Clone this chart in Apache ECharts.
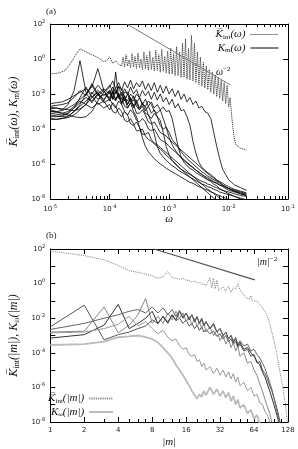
<!DOCTYPE html>
<html><head><meta charset="utf-8">
<script src="https://cdn.jsdelivr.net/npm/echarts@6/dist/echarts.min.js"></script>
<style>html,body{margin:0;padding:0;background:#fff}#c{width:298px;height:449px}</style>
</head><body><div id="c"></div>
<script>
// ===== Panel (a): values are decimal exponents (log10) =====
const logOmega = [-5.0,-4.9,-4.8,-4.7,-4.6,-4.5,-4.4,-4.3,-4.2,-4.1,
 -4.0,-3.95,-3.9,-3.85,-3.8,-3.75,-3.7,-3.65,-3.6,-3.55,-3.5,-3.45,-3.4,-3.35,-3.3,-3.25,-3.2,-3.15,-3.1,-3.05,
 -3.0,-2.95,-2.9,-2.85,-2.8,-2.75,-2.7,-2.65,-2.6,-2.55,-2.5,-2.45,-2.4,-2.35,-2.3,-2.25,-2.2,-2.15,-2.1,-2.05,-2.0,
 -1.9,-1.8,-1.7];
const kmA = [-2.55,-2.5,-2.45,-2.3,-2.1,-1.9,-1.7,-2.0,-1.5,-1.9,
 -1.6,-1.25,-1.7,-1.35,-1.8,-1.3,-1.65,-1.2,-1.7,-1.35,-1.6,-1.25,-1.75,-1.4,-1.8,-1.35,-1.9,-1.5,-1.95,-1.55,
 -2.0,-1.7,-2.15,-1.8,-2.3,-2.0,-2.45,-2.2,-2.6,-2.4,-2.8,-2.7,-3.0,-3.1,-3.4,-4.2,-5.0,-5.7,-6.3,-6.6,-6.9,
 -7.2,-7.35,-7.5];
const kmB = [-2.7,-2.65,-2.6,-2.5,-2.2,-1.8,-2.1,-1.4,-2.0,-1.7,
 -2.0,-1.6,-1.95,-1.55,-2.1,-1.7,-2.05,-1.6,-2.0,-1.75,-2.2,-1.8,-2.1,-1.85,-2.3,-1.9,-2.35,-2.0,-2.45,-2.2,
 -2.6,-2.3,-2.8,-2.55,-2.95,-2.9,-3.3,-3.8,-4.7,-5.4,-5.9,-6.2,-6.35,-6.5,-6.6,-6.75,-6.9,-7.0,-7.1,-7.2,-7.3,
 -7.45,-7.55,-7.65];
const kmC = [-2.85,-2.8,-2.9,-2.6,-1.8,-0.1,-1.9,-2.5,-2.0,-2.3,
 -1.9,-2.3,-1.8,-2.25,-1.9,-2.4,-2.0,-2.45,-2.1,-2.5,-2.2,-2.6,-2.3,-2.7,-2.45,-2.8,-2.6,-2.9,-2.75,-3.0,
 -2.95,-3.4,-4.2,-5.0,-5.6,-5.9,-6.1,-6.25,-6.35,-6.5,-6.6,-6.7,-6.8,-6.9,-6.95,-7.05,-7.1,-7.2,-7.25,-7.35,-7.4,
 -7.5,-7.6,-7.7];
const kmD = [-3.0,-3.0,-2.95,-2.8,-2.6,-2.3,-2.0,-1.6,-0.55,-1.8,
 -2.4,-1.9,-2.3,-1.95,-2.5,-2.1,-2.6,-2.2,-2.7,-2.35,-2.8,-2.5,-2.95,-2.7,-3.1,-2.9,-3.3,-3.5,-4.2,-5.0,
 -5.5,-5.8,-6.0,-6.15,-6.3,-6.4,-6.5,-6.6,-6.7,-6.8,-6.9,-7.0,-7.05,-7.15,-7.2,-7.3,-7.35,-7.45,-7.5,-7.55,-7.6,
 -7.7,-7.8,-7.85];
const kmE = [-3.1,-3.15,-3.2,-3.1,-2.8,-2.2,-1.6,-2.2,-1.9,-2.4,
 -1.8,-2.3,-0.75,-2.2,-2.5,-2.1,-2.6,-2.3,-2.8,-2.5,-2.9,-2.7,-3.1,-3.2,-3.6,-4.3,-5.0,-5.4,-5.6,-5.8,
 -5.95,-6.1,-6.2,-6.35,-6.45,-6.55,-6.65,-6.75,-6.85,-6.95,-7.05,-7.15,-7.2,-7.3,-7.35,-7.45,-7.5,-7.6,-7.65,-7.7,-7.75,
 -7.85,-7.95,-8.05];
const kmF = [-3.2,-3.25,-3.3,-3.25,-3.0,-2.6,-2.0,-1.5,-2.1,-1.8,
 -2.3,-1.9,-2.35,-2.0,-2.6,-2.25,-2.8,-2.5,-3.0,-3.3,-3.9,-4.5,-5.0,-5.3,-5.5,-5.7,-5.85,-6.0,-6.1,-6.25,
 -6.35,-6.45,-6.55,-6.65,-6.75,-6.85,-6.95,-7.05,-7.1,-7.2,-7.3,-7.35,-7.45,-7.5,-7.6,-7.65,-7.75,-7.8,-7.9,-7.95,-8.05,
 -8.15,-8.25,-8.35];
const kmG = [-2.9,-3.0,-3.1,-3.2,-3.3,-3.35,-3.3,-3.0,-2.4,-1.9,
 -1.5,-1.9,-2.0,-1.6,-1.7,-2.2,-2.4,-2.0,-2.2,-2.7,-2.9,-2.6,-2.7,-3.2,-3.4,-3.1,-3.3,-3.8,-4.0,-3.9,
 -4.2,-4.6,-4.8,-5.0,-5.3,-5.5,-5.7,-5.85,-6.0,-6.15,-6.3,-6.45,-6.55,-6.7,-6.8,-6.9,-7.0,-7.1,-7.2,-7.3,-7.4,
 -7.55,-7.7,-7.8];
const kmH = [-3.3,-3.3,-3.25,-3.1,-2.8,-2.5,-2.2,-2.4,-2.0,-2.5,
 -2.3,-2.6,-2.8,-2.4,-2.6,-3.0,-3.2,-2.9,-3.1,-3.5,-3.6,-3.4,-3.6,-4.0,-4.1,-4.0,-4.3,-4.6,-4.7,-4.8,
 -5.0,-5.15,-5.3,-5.45,-5.6,-5.75,-5.9,-6.05,-6.2,-6.35,-6.5,-6.6,-6.75,-6.9,-7.0,-7.15,-7.25,-7.4,-7.5,-7.6,-7.7,
 -7.85,-8.0,-8.1];
const kmI = [-3.4,-3.45,-3.4,-3.3,-3.0,-2.7,-2.4,-2.1,-2.6,-2.4,
 -2.9,-2.5,-2.7,-3.1,-3.3,-3.0,-3.2,-3.7,-3.8,-3.6,-3.9,-4.3,-4.3,-4.2,-4.6,-4.8,-4.9,-5.05,-5.2,-5.35,
 -5.5,-5.65,-5.8,-5.95,-6.1,-6.25,-6.4,-6.55,-6.7,-6.85,-7.0,-7.15,-7.3,-7.45,-7.55,-7.7,-7.8,-7.95,-8.05,-8.2,-8.3,
 -8.5,-8.7,-8.9];
const kmJ = [-3.45,-3.45,-3.4,-3.35,-3.2,-2.9,-2.6,-2.8,-2.5,-2.8,
 -2.6,-3.0,-3.1,-2.8,-3.0,-3.5,-3.6,-3.4,-3.7,-4.1,-4.1,-4.0,-4.4,-4.6,-4.7,-4.85,-5.0,-5.15,-5.3,-5.5,
 -5.65,-5.8,-5.95,-6.15,-6.3,-6.45,-6.6,-6.75,-6.9,-7.05,-7.2,-7.35,-7.5,-7.65,-7.8,-7.95,-8.1,-8.25,-8.4,-8.5,-8.6,
 -8.8,-9.0,-9.2];
const kmK = [-2.75,-2.8,-2.85,-2.9,-2.95,-2.85,-2.6,-2.2,-1.8,-2.1,
 -1.8,-2.2,-2.4,-2.0,-2.2,-2.7,-2.8,-2.5,-2.6,-3.1,-3.1,-2.9,-3.2,-3.6,-3.7,-3.6,-3.9,-4.2,-4.3,-4.4,
 -4.6,-4.75,-4.9,-5.05,-5.2,-5.35,-5.5,-5.65,-5.8,-5.95,-6.1,-6.25,-6.4,-6.55,-6.7,-6.8,-6.95,-7.05,-7.2,-7.3,-7.4,
 -7.55,-7.65,-7.75];
const kmL = [-3.0,-3.05,-3.1,-3.0,-2.7,-2.4,-2.6,-1.9,-2.3,-2.0,
 -2.2,-1.8,-1.7,-2.1,-2.3,-1.9,-1.9,-2.3,-2.4,-2.0,-2.2,-2.6,-2.7,-2.4,-2.6,-3.0,-3.1,-2.9,-3.4,-3.9,
 -4.5,-4.9,-5.2,-5.45,-5.65,-5.8,-5.95,-6.1,-6.2,-6.35,-6.45,-6.6,-6.7,-6.8,-6.9,-7.0,-7.1,-7.2,-7.3,-7.4,-7.5,
 -7.6,-7.7,-7.8];
const kmAll = [kmA,kmB,kmC,kmD,kmE,kmF,kmG,kmH,kmI,kmJ,kmK,kmL];

const logOmegaInt = [-5.0,-4.85,-4.75,-4.65,-4.55,-4.5,-4.4,-4.3,-4.2,-4.1,-4.05,-4.0,-3.95,-3.9,-3.85,
 -3.8,-3.775,-3.75,-3.725,-3.7,-3.675,-3.65,-3.625,-3.6,-3.575,-3.55,-3.525,-3.5,-3.475,-3.45,-3.425,-3.4,-3.375,-3.35,-3.325,
 -3.3,-3.275,-3.25,-3.225,-3.2,-3.175,-3.15,-3.125,-3.1,-3.075,-3.05,-3.025,-3.0,-2.975,-2.95,-2.925,-2.9,-2.875,-2.85,-2.825,
 -2.8,-2.775,-2.75,-2.725,-2.7,-2.675,-2.65,-2.625,-2.6,-2.575,-2.55,-2.525,-2.5,-2.475,-2.45,-2.425,-2.4,-2.375,-2.35,-2.325,
 -2.3,-2.275,-2.25,-2.225,-2.2,-2.175,-2.15,-2.125,-2.1,-2.075,-2.05,-2.025,-2.0,-1.975,-1.95,
 -1.925,-1.9,-1.875,-1.85,-1.8,-1.75,-1.7];
const kIntA = [-0.85,-0.8,-0.65,-0.2,0.35,0.58,0.4,0.25,0.08,-0.15,-0.1,0.12,-0.25,-0.1,-0.3,
 -0.4,0.1,-0.45,0.25,-0.4,-0.05,-0.5,0.3,-0.45,0.15,-0.55,0.35,-0.5,0.0,-0.6,0.4,-0.55,0.2,-0.65,0.45,
 -0.6,0.1,-0.7,0.5,-0.65,0.25,-0.75,0.55,-0.7,0.15,-0.8,0.45,-0.85,0.6,-0.85,0.3,-0.95,0.7,-0.95,0.4,
 -1.05,0.9,-1.05,1.15,-1.15,0.6,-1.2,1.35,-1.25,0.9,-1.35,0.4,-1.45,0.1,-1.55,-0.2,-1.65,-0.4,-1.75,-0.6,
 -1.9,-0.75,-2.0,-0.9,-2.15,-1.05,-2.25,-1.2,-2.4,-1.35,-2.55,-1.5,-2.75,-2.2,-3.2,
 -4.0,-4.6,-4.9,-5.0,-5.1,-5.15,-5.2];

const omegaPow = [1.95e-4, 1.07e-2];
const kPowA = [100, 0.033];

const omegaMajor = [1e-5,1e-4,1e-3,1e-2,1e-1];
const omegaMinor = [2e-5,3e-5,4e-5,5e-5,6e-5,7e-5,8e-5,9e-5,2e-4,3e-4,4e-4,5e-4,6e-4,7e-4,8e-4,9e-4,2e-3,3e-3,4e-3,5e-3,6e-3,7e-3,8e-3,9e-3,2e-2,3e-2,4e-2,5e-2,6e-2,7e-2,8e-2,9e-2];
const kTicksA = [1e-8,1e-6,1e-4,1e-2,1,100];

// ===== Panel (b) =====
const mInt = [1,2,3,4,5,6,7,8,9,10,11,12,13,14,15,16,17,18,19,20,21,22,23,24,25,26,27,28,29,30,31,32,
 34,36,38,40,42,44,46,48,50,52,54,56,58,60,62,64,68,72,76,80,84,88,92,96,100,104,108,112,116,120,124,127];
const kIntB = [1.88,1.62,1.38,1.05,0.75,0.65,0.55,0.45,0.3,0.4,0.7,0.35,0.3,0.25,0.3,0.2,0.18,0.1,0.15,0.02,0.08,-0.05,0.0,-0.15,-0.2,0.35,-0.25,0.3,-0.3,0.2,-0.4,-0.35,
 -0.2,-0.45,-0.15,-0.5,-0.25,-0.3,0.0,-0.35,-0.5,-0.6,-0.8,-0.75,-0.9,-0.7,-1.0,-0.9,-1.0,-1.2,-1.4,-1.6,-1.9,-2.3,-2.8,-3.3,-3.8,-4.4,-5.0,-5.6,-6.1,-6.8,-7.5,-8.2];

const mGrid = [1,2,3,4,5,6,7,8,9,10,11,12,13,14,15,16,17,18,19,20,21,22,23,24,
 26,28,30,32,34,36,38,40,42,44,46,48,
 52,56,60,64,68,72,76,80,84,88,92,96,100,104,108,112,116,120,124,128];
const kw1 = [-2.5,-1.25,-3.25,-2.95,-2.8,-2.6,-2.45,-2.1,-2.3,-1.9,-2.2,-1.85,-2.15,-2.0,-2.3,-2.1,-2.45,-2.3,-2.6,-2.4,-2.7,-2.5,-2.8,-2.65,
 -2.9,-2.75,-3.05,-2.9,-3.2,-3.0,-3.35,-3.2,-3.5,-3.35,-3.7,-3.5,
 -3.9,-3.8,-4.2,-4.1,-4.6,-4.5,-5.0,-5.2,-5.5,-5.9,-6.2,-6.6,-7.0,-7.4,-7.9,-8.5,-9.0,-9.5,-10.0,-10.5];
const kw2 = [-2.8,-2.75,-1.35,-2.85,-2.4,-1.8,-0.85,-2.3,-1.9,-2.3,-1.7,-2.1,-1.6,-2.0,-1.7,-2.2,-1.9,-2.4,-2.0,-2.5,-2.2,-2.6,-2.3,-2.8,
 -2.5,-3.0,-2.7,-3.3,-3.0,-3.5,-3.2,-3.7,-3.4,-3.9,-3.6,-4.2,
 -4.0,-4.6,-4.5,-5.0,-5.3,-5.8,-6.2,-6.7,-7.1,-7.5,-8.0,-8.6,-9.2,-9.8,-10.3,-10.8,-11.2,-11.6,-12.0,-12.5];
const kw3 = [-3.15,-2.95,-2.4,-1.2,-2.6,-2.3,-2.0,-1.6,-2.3,-1.9,-2.3,-1.8,-2.1,-1.6,-2.0,-1.7,-2.1,-1.8,-2.2,-1.9,-2.3,-2.0,-2.4,-2.2,
 -2.6,-2.3,-2.8,-2.6,-3.0,-2.8,-3.2,-3.0,-3.4,-3.2,-3.6,-3.4,
 -3.8,-3.7,-4.0,-4.2,-4.5,-4.7,-5.1,-5.4,-5.8,-6.2,-6.6,-7.0,-7.4,-7.8,-8.3,-8.8,-9.3,-9.8,-10.3,-11.0];
const kw4 = [-3.55,-3.5,-3.35,-3.1,-3.05,-3.0,-3.1,-3.2,-3.4,-3.7,-4.0,-4.3,-4.7,-5.0,-5.3,-5.6,-5.9,-6.2,-6.45,-6.65,-6.4,-6.55,-6.2,-6.45,
 -6.0,-6.4,-6.1,-6.5,-6.2,-6.6,-6.3,-6.8,-6.5,-7.0,-6.7,-7.2,
 -7.0,-7.5,-7.3,-7.8,-7.6,-8.1,-8.3,-8.6,-9.0,-9.4,-9.8,-10.2,-10.6,-11.0,-11.4,-11.8,-12.2,-12.6,-13.0,-13.4];
const kw5 = [-2.85,-2.8,-2.6,-2.35,-1.9,-2.45,-2.2,-2.6,-2.9,-2.7,-3.1,-3.3,-3.2,-3.6,-3.8,-3.7,-4.1,-4.2,-4.1,-4.5,-4.4,-4.8,-4.6,-5.0,
 -4.8,-5.2,-4.9,-5.3,-5.0,-5.4,-5.1,-5.5,-5.2,-5.7,-5.4,-5.9,
 -5.7,-6.2,-6.0,-6.5,-6.4,-6.9,-7.0,-7.4,-7.6,-8.0,-8.4,-8.8,-9.2,-9.6,-10.0,-10.4,-10.8,-11.2,-11.6,-12.0];
const kw6 = [-2.65,-2.3,-2.0,-1.8,-1.6,-1.5,-1.7,-1.35,-1.7,-1.4,-1.8,-1.5,-1.9,-1.55,-1.95,-1.7,-2.05,-1.8,-2.2,-1.95,-2.3,-2.1,-2.45,-2.2,
 -2.6,-2.4,-2.8,-2.6,-3.0,-2.8,-3.2,-3.0,-3.3,-3.1,-3.5,-3.3,
 -3.6,-3.5,-3.9,-3.8,-4.1,-4.3,-4.6,-4.9,-5.3,-5.7,-6.1,-6.6,-7.1,-7.6,-8.1,-8.6,-9.1,-9.6,-10.1,-10.6];

const mPow = [8.3, 65];
const kPowB = [100, 1.63];

const mTicks = [1,2,4,8,16,32,64,128];
const mMinor = [3,5,6,7,10,12,14,20,24,28,40,48,56,80,96,112];
const kTicksB = [1e-8,1e-7,1e-6,1e-5,1e-4,1e-3,1e-2,1e-1,1,10,100];
const kLabelsB = [1e-8,1e-6,1e-4,1e-2,1,100];

// ===== build =====
const p10 = e => Math.pow(10, e);
const ptsLog = (xe, ye) => xe.map((x, i) => [p10(x), p10(ye[i])]);
const ptsM = (xs, ye) => xs.map((x, i) => [x, p10(ye[i])]);
const ptsLin = (xs, ys) => xs.map((x, i) => [x, ys[i]]);

const FS = 'DejaVu Sans';
const SERIF = 'Liberation Serif';
const powFmt = v => { const e = Math.round(Math.log10(v)); return '{b|10}{s|' + e + '}'; };
const powRich = { b: {fontSize: 7, fontFamily: FS, color: '#222'}, s: {fontSize: 5, fontFamily: FS, color: '#222', padding: [0,0,5,0]} };
const mkRich = (fs, ss) => ({
  i: {fontFamily: SERIF, fontStyle: 'italic', fontSize: fs, color: '#111'},
  ko: {fontFamily: 'DejaVu Serif', fontStyle: 'italic', fontSize: fs - 1, color: '#111'},
  sub: {fontFamily: SERIF, fontSize: ss, color: '#111', padding: [5,0,0,0]}
});
const legendRich = mkRich(11, 7);
const nameRich = mkRich(12, 8);
const axLine = {show: true, lineStyle: {color: '#000', width: 1}};

function xAxes(grid, min, max, major, minor, labelFmt, name, nameGap) {
  const base = {gridIndex: grid, type: 'log', logBase: grid === 0 ? 10 : 2, min, max, splitLine: {show: false}};
  return [
    Object.assign({}, base, {position: 'bottom', axisLine: axLine,
      axisTick: {show: true, inside: true, length: 5, customValues: major, lineStyle: {color: '#000'}},
      axisLabel: {show: true, customValues: major, margin: 5, formatter: labelFmt, rich: powRich, fontSize: 7, fontFamily: FS, color: '#222'},
      name, nameLocation: 'middle', nameGap, nameTextStyle: {rich: legendRich}}),
    Object.assign({}, base, {position: 'bottom', axisLine: {show: false},
      axisTick: {show: true, inside: true, length: 3, customValues: minor, lineStyle: {color: '#000'}},
      axisLabel: {show: false}}),
    Object.assign({}, base, {position: 'top', axisLine: axLine,
      axisTick: {show: true, inside: true, length: 5, customValues: major, lineStyle: {color: '#000'}},
      axisLabel: {show: false}}),
    Object.assign({}, base, {position: 'top', axisLine: {show: false},
      axisTick: {show: true, inside: true, length: 3, customValues: minor, lineStyle: {color: '#000'}},
      axisLabel: {show: false}})
  ];
}
function yAxes(grid, ticks, labels, name, nameGap) {
  const base = {gridIndex: grid, type: 'log', logBase: 10, min: 1e-8, max: 100, splitLine: {show: false}};
  return [
    Object.assign({}, base, {position: 'left', axisLine: axLine,
      axisTick: {show: true, inside: true, length: 5, customValues: ticks, lineStyle: {color: '#000'}},
      axisLabel: {show: true, customValues: labels, margin: 5, formatter: powFmt, rich: powRich},
      name, nameLocation: 'middle', nameGap, nameRotate: 90, nameTextStyle: {rich: nameRich}}),
    Object.assign({}, base, {position: 'right', axisLine: axLine,
      axisTick: {show: true, inside: true, length: 5, customValues: ticks, lineStyle: {color: '#000'}},
      axisLabel: {show: false}})
  ];
}

const series = [];
const lineBase = {type: 'line', showSymbol: false, symbol: 'none', clip: true, silent: true, animation: false};
// panel a
series.push(Object.assign({}, lineBase, {name: 'KintA', xAxisIndex: 0, yAxisIndex: 0, data: ptsLog(logOmegaInt, kIntA),
  itemStyle: {color: '#555'}, lineStyle: {color: '#444', width: 1, type: [1.2, 0.8]}}));
kmAll.forEach(arr => series.push(Object.assign({}, lineBase, {name: 'KmA', xAxisIndex: 0, yAxisIndex: 0,
  data: ptsLog(logOmega, arr), itemStyle: {color: '#000'}, lineStyle: {color: '#000', width: 0.8}})));
series.push(Object.assign({}, lineBase, {name: 'powA', xAxisIndex: 0, yAxisIndex: 0, data: ptsLin(omegaPow, kPowA),
  lineStyle: {color: '#777', width: 1}}));
// panel b
const kwStyles = [
  [kw4, '#bbb', 1.8], [kw1, '#555', 1], [kw2, '#888', 1], [kw3, '#333', 1], [kw5, '#999', 1], [kw6, '#666', 1]
];
kwStyles.forEach(([arr, c, w]) => series.push(Object.assign({}, lineBase, {name: 'KwB', xAxisIndex: 4, yAxisIndex: 2,
  data: ptsM(mGrid, arr), itemStyle: {color: c}, lineStyle: {color: c, width: w}})));
series.push(Object.assign({}, lineBase, {name: 'KintB', xAxisIndex: 4, yAxisIndex: 2, data: ptsM(mInt, kIntB),
  itemStyle: {color: '#888'}, lineStyle: {color: '#888', width: 1, type: [1.2, 1]}}));
series.push(Object.assign({}, lineBase, {name: 'powB', xAxisIndex: 4, yAxisIndex: 2, data: ptsLin(mPow, kPowB),
  lineStyle: {color: '#555', width: 1.3}}));

const legendNames = {
  KintA: '{ko|K\u0305}{sub|int}{i|(ω)}',
  KmA: '{i|K}{sub|m}{i|(ω)}',
  KintB: '{ko|K\u0305}{sub|int}{i|(|m|)}',
  KwB: '{i|K}{sub|ω}{i|(|m|)}'
};

const option = {
  animation: false,
  backgroundColor: '#fff',
  grid: [
    {left: 40, top: 24, width: 250, height: 175, show: false},
    {left: 40, top: 249, width: 248, height: 173, show: false}
  ],
  xAxis: [].concat(
    xAxes(0, 1e-5, 1e-1, omegaMajor, omegaMinor, powFmt, '{i|ω}', 11),
    xAxes(1, 1, 128, mTicks, mMinor, v => String(v), '{i||m|}', 15)
  ),
  yAxis: [].concat(
    yAxes(0, kTicksA, kTicksA, '{ko|K\u0305}{sub|int}{i|(ω), K}{sub|m}{i|(ω)}', 21),
    yAxes(1, kTicksB, kLabelsB, '{ko|K\u0305}{sub|int}{i|(|m|), K}{sub|ω}{i|(|m|)}', 21)
  ),
  legend: [
    {data: ['KintA', 'KmA'], right: 14, top: 24, orient: 'vertical', align: 'right', itemWidth: 28, itemHeight: 9, itemGap: 2,
      itemStyle: {opacity: 0}, lineStyle: {width: 1}, formatter: n => legendNames[n], textStyle: {rich: legendRich}},
    {data: ['KintB', 'KwB'], left: 43, top: 388, orient: 'vertical', align: 'right', itemWidth: 24, itemHeight: 9, itemGap: 2,
      itemStyle: {opacity: 0}, formatter: n => legendNames[n], textStyle: {rich: legendRich}}
  ],
  graphic: [
    {type: 'text', left: 46, top: 7, style: {text: '(a)', font: '9px "Liberation Serif"', fill: '#222'}},
    {type: 'text', left: 46, top: 231, style: {text: '(b)', font: '9px "Liberation Serif"', fill: '#222'}},
    {type: 'text', left: 216, top: 66, style: {text: '{i|ω}{s|−2}', rich: {i: {fontFamily: SERIF, fontStyle: 'italic', fontSize: 10, fill: '#111'}, s: {fontFamily: SERIF, fontSize: 7, fill: '#111', padding: [0,0,6,0]}}}},
    {type: 'text', left: 257, top: 256, style: {text: '{i||m|}{s|−2}', rich: {i: {fontFamily: SERIF, fontStyle: 'italic', fontSize: 10, fill: '#111'}, s: {fontFamily: SERIF, fontSize: 7, fill: '#111', padding: [0,0,6,0]}}}}
  ],
  series
};
const chart = echarts.init(document.getElementById('c'), null, {renderer: 'canvas'});
chart.setOption(option);
</script></body></html>
